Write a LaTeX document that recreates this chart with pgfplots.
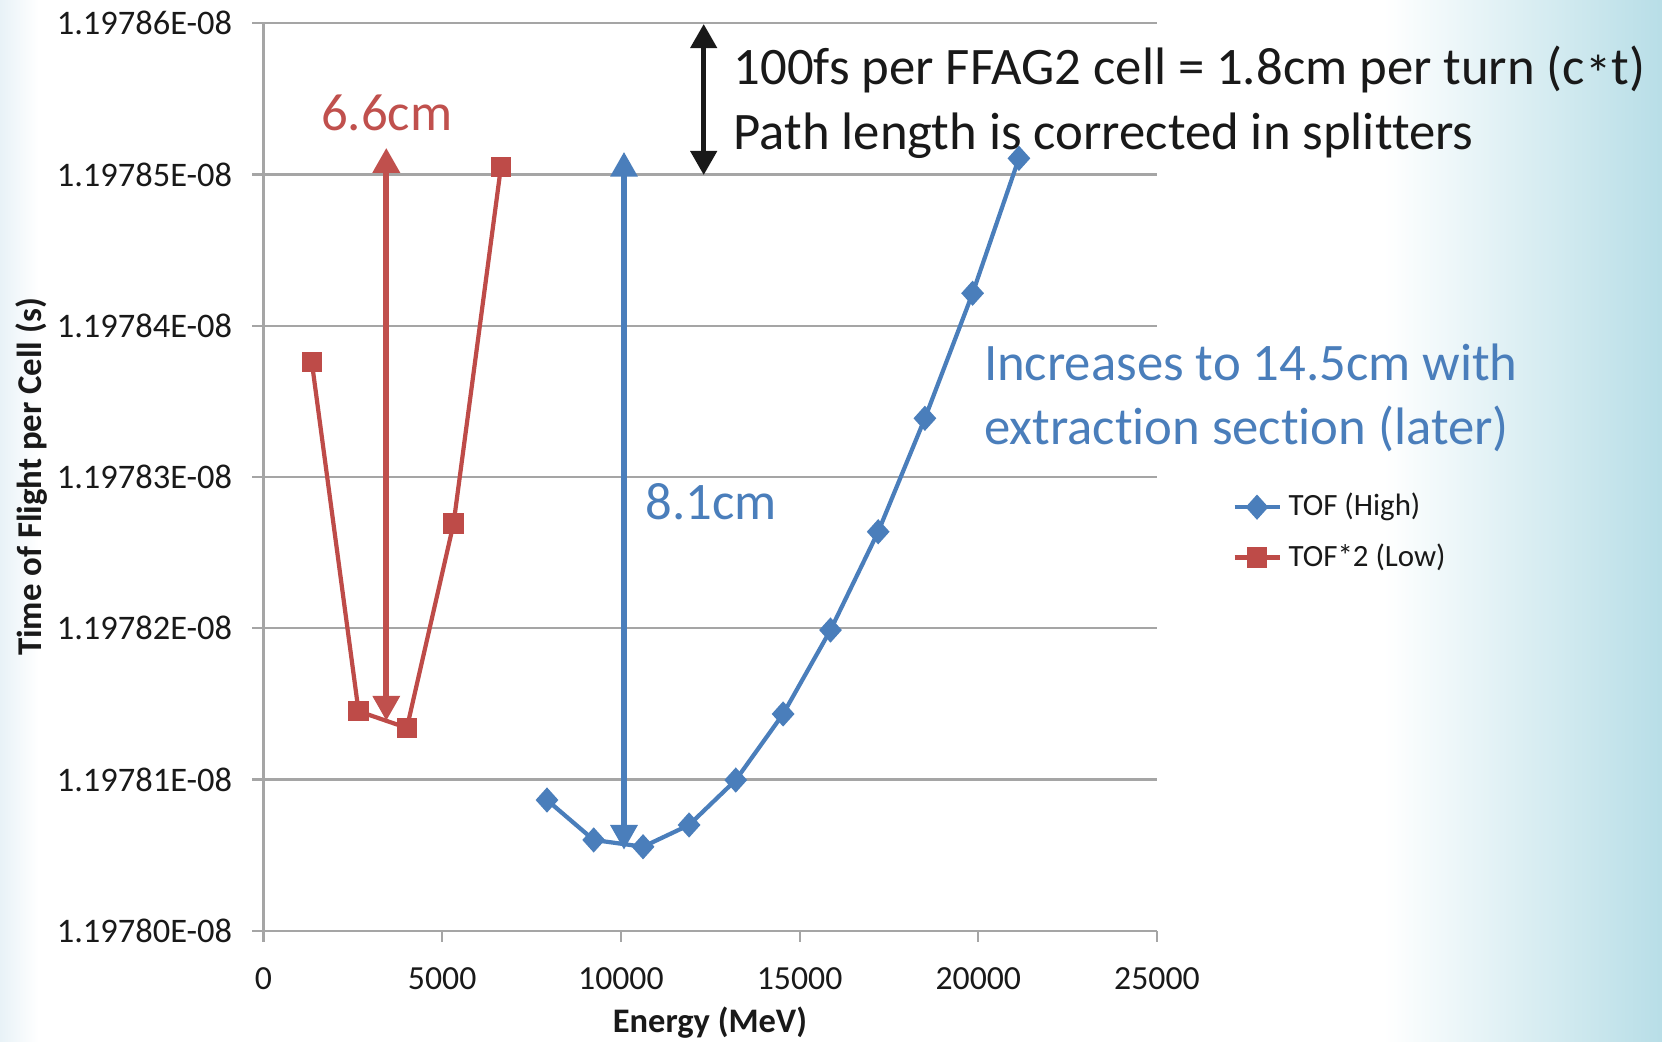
\documentclass[border=0pt]{standalone}
\usepackage{fontspec}
\setmainfont{Carlito}[RawFeature={-liga;-clig;-dlig;-calt}]
\usepackage{pgfplots}
\usepackage{pgfplotstable}
\pgfplotsset{compat=1.18}
\usetikzlibrary{arrows.meta}
\definecolor{serblue}{RGB}{74,126,187}
\definecolor{serred}{RGB}{190,75,72}
\definecolor{txtblue}{RGB}{74,126,187}
\definecolor{txtred}{RGB}{192,80,77}
\definecolor{gridgray}{RGB}{165,165,165}
\definecolor{bgblue}{RGB}{184,222,231}
\definecolor{bgleft}{RGB}{232,242,247}
\definecolor{txtblack}{RGB}{25,25,25}

% y values: time of flight per cell minus 1.19780E-08 s, in units of 1E-14 s
\pgfplotstableread{
E dt
7932 0.864
9239 0.600
10620 0.555
11908 0.699
13214 0.996
14539 1.433
15865 1.988
17199 2.638
18506 3.388
19841 4.215
21137 5.107
}\tofhigh
\pgfplotstableread{
E dt
1352 3.760
2660 1.451
4012 1.341
5319 2.693
6644 5.051
}\toflow

\begin{document}
\begin{tikzpicture}
\path[use as bounding box] (-2.635cm,-1.113cm) rectangle (13.985cm,9.307cm);
\fill[white] (-2.635cm,-1.113cm) rectangle (13.985cm,9.307cm);
\shade[left color=white, right color=bgblue] (11.2cm,-1.113cm) rectangle (13.985cm,9.307cm);
\shade[left color=bgleft, right color=white] (-2.635cm,-1.113cm) rectangle (-2.25cm,9.307cm);
\begin{axis}[
  scale only axis, width=8.935cm, height=9.074cm,
  xmin=0, xmax=25000, ymin=0, ymax=6,
  scaled x ticks=false, scaled y ticks=false,
  axis lines=left, axis line style={-, gridgray, line width=0.6pt},
  xtick={0,5000,10000,15000,20000,25000},
  xticklabels={0,5000,10000,15000,20000,25000},
  ytick={0,1,2,3,4,5,6},
  yticklabels={1.19780E-08,1.19781E-08,1.19782E-08,1.19783E-08,1.19784E-08,1.19785E-08,1.19786E-08},
  ymajorgrids, grid style={gridgray, line width=0.6pt},
  tick align=outside, major tick length=0.11cm,
  tick style={gridgray, line width=0.6pt},
  ticklabel style={text=txtblack},
  xticklabel style={font=\fontsize{9.6}{11}\selectfont, yshift=-0.13cm},
  yticklabel style={font=\fontsize{9.8}{12}\selectfont, xshift=-0.08cm},
  clip=false,
  legend style={at={(1.0836,0.439)}, anchor=west, draw=none, fill=none,
    font=\fontsize{8.8}{10.5}\selectfont, text=txtblack, row sep=2.4pt,
    inner sep=0pt},
  legend cell align=left,
  legend image code/.code={\draw[mark repeat=2,mark phase=2] plot coordinates {(0cm,0cm) (0.225cm,0cm) (0.45cm,0cm)};},
]
\addplot[serblue, line width=1.2pt, mark=diamond*, mark size=2.7pt, mark options={solid, fill=serblue, xscale=1.2}] table[x=E, y=dt] {\tofhigh};
\addlegendentry{TOF (High)}
\addplot[serred, line width=1.2pt, mark=square*, mark size=2.3pt, mark options={solid, fill=serred}] table[x=E, y=dt] {\toflow};
\addlegendentry{TOF*2 (Low)}

\draw[txtred, line width=1.8pt, {Triangle[width=0.26cm,length=0.25cm]}-{Triangle[width=0.26cm,length=0.25cm]}] (axis cs:3436,1.387) -- (axis cs:3436,5.177);
\draw[serblue, line width=1.8pt, {Triangle[width=0.26cm,length=0.25cm]}-{Triangle[width=0.26cm,length=0.25cm]}] (axis cs:10087,0.534) -- (axis cs:10087,5.151);
\draw[txtblack, line width=1.3pt, {Triangle[width=0.26cm,length=0.24cm]}-{Triangle[width=0.26cm,length=0.24cm]}] (axis cs:12317,4.997) -- (axis cs:12317,5.995);

\node[anchor=base west, inner sep=0pt, text=txtred, font=\fontsize{15}{18}\selectfont] at (axis cs:1595,5.288) {6.6cm};
\node[anchor=base west, inner sep=0pt, text=txtblue, font=\fontsize{15}{18}\selectfont] at (axis cs:10674,2.720) {8.1cm};
\node[anchor=base west, inner sep=0pt, text=txtblack, font=\fontsize{15}{18}\selectfont] at (axis cs:13136,5.592) {100fs per FFAG2 cell = 1.8cm per turn (c\raisebox{-0.3ex}{*}t)};
\node[anchor=base west, inner sep=0pt, text=txtblack, font=\fontsize{15}{18}\selectfont] at (axis cs:13136,5.167) {Path length is corrected in splitters};
\node[anchor=base west, inner sep=0pt, text=txtblue, font=\fontsize{15}{18}\selectfont] at (axis cs:20140,3.641) {Increases to 14.5cm with};
\node[anchor=base west, inner sep=0pt, text=txtblue, font=\fontsize{15}{18}\selectfont] at (axis cs:20140,3.212) {extrac\kern0pt tion sec\kern0pt tion (later)};
\end{axis}
\node[anchor=base, inner sep=0pt, text=txtblack, font=\fontsize{9.8}{12}\selectfont\bfseries] at (4.465cm,-1.023cm) {Energy (MeV)};
\node[anchor=center, rotate=90, inner sep=0pt, text=txtblack, font=\fontsize{9.9}{12}\selectfont\bfseries] at (-2.318cm,4.537cm) {Time of Flight per Cell (s)};
\end{tikzpicture}
\end{document}
